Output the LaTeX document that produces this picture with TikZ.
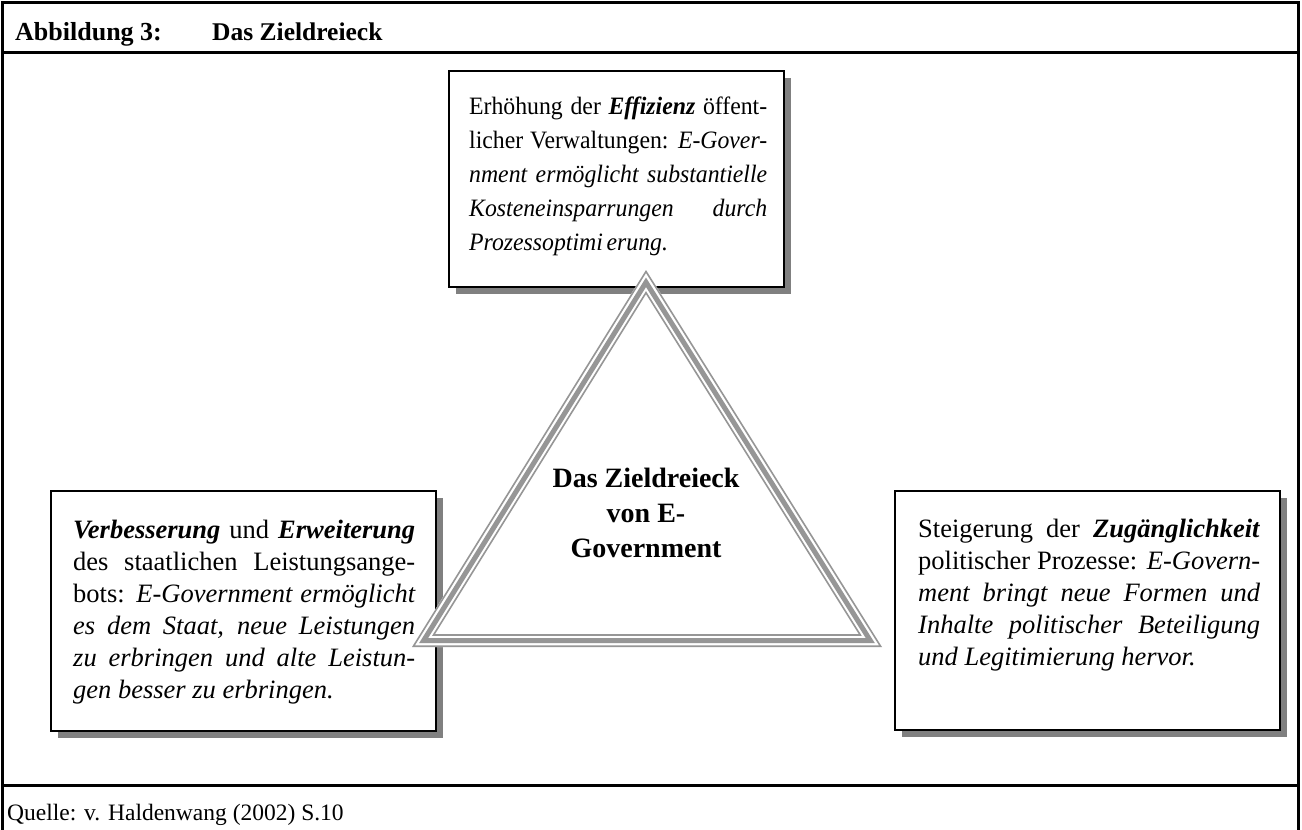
\documentclass[tikz,border=0pt]{standalone}
\usepackage{fontspec}
\setmainfont{Liberation Serif}
\newfontfamily\narrowserif{Liberation Serif}[FakeStretch=0.95]
\usetikzlibrary{calc,shadows}

\definecolor{shadowgray}{RGB}{128,128,128}
\definecolor{trigray}{RGB}{150,150,150}

% bold italic emphasis
\newcommand{\bfit}[1]{\textbf{\textit{#1}}}
% justified paragraph whose baseline is the first line's baseline
\newcommand{\justpar}[2]{\parbox[t]{#1}{\tolerance=10000\hbadness=10000\hyphenpenalty=10000\relax #2}}

\begin{document}
\begin{tikzpicture}[x=1pt,y=-1pt,
  frame/.style={line width=3pt},
  goalbox/.style={draw=black, line width=1.8pt, fill=white, inner sep=0pt,
    anchor=north west,
    drop shadow={shadow xshift=7.5pt, shadow yshift=-7.5pt, fill=shadowgray, opacity=1}},
  bodytext/.style={anchor=base west, inner sep=0pt},
  tri/.style={draw=trigray, line join=miter}]

\useasboundingbox (0,0) rectangle (1302,830);

% outer frame with header and footer rows
\draw[frame] (2.5,830) -- (2.5,2.5) -- (1298.5,2.5) -- (1298.5,830);
\draw[frame] (1,52) -- (1300,52);
\draw[frame] (1,785) -- (1300,785);

\node[anchor=base west, inner sep=0pt, font=\bfseries\fontsize{26}{30}\selectfont] (figno) at (15,40) {Abbildung 3:};
\node[anchor=base west, inner sep=0pt, font=\bfseries\fontsize{25.5}{30}\selectfont] (figtitle) at (212,40) {Das Zieldreieck};
\node[anchor=base west, inner sep=0pt, font=\fontsize{23.5}{28}\selectfont] (source) at (7,820) {Quelle: v. Haldenwang (2002) S.10};

% the three goal boxes
\node[goalbox, minimum width=335pt, minimum height=216pt] (effbox) at (448,70) {};
\node[goalbox, minimum width=385pt, minimum height=240pt] (servbox) at (50,490) {};
\node[goalbox, minimum width=385pt, minimum height=239pt] (accbox) at (894,490) {};

\node[bodytext, font=\narrowserif\fontsize{25}{34}\selectfont] (efftext) at (469,114) {\justpar{298pt}{%
Erhöhung der \bfit{Effizienz} öffent-\linebreak
licher Verwaltungen: \textit{E-Gover-\linebreak
nment ermöglicht substantielle\linebreak
Kosteneinsparrungen\hfill durch\linebreak
Prozessoptimi\hspace{0.15em}erung.}}};

\node[bodytext, font=\fontsize{26.5}{32}\selectfont] (servtext) at (73,538) {\justpar{342pt}{%
\bfit{Verbesserung} und \bfit{Erweiterung}\linebreak
des staatlichen Leistungsange-\linebreak
bots: \textit{E-Government ermöglicht\linebreak
es dem Staat, neue Leistungen\linebreak
zu erbringen und alte Leistun-\linebreak
gen besser zu erbringen.}}};

\node[bodytext, font=\fontsize{26.5}{32}\selectfont] (acctext) at (918,537) {\justpar{342pt}{%
Steigerung der \bfit{Zugänglichkeit}\linebreak
politischer Prozesse: \textit{E-Govern-\linebreak
ment bringt neue Formen und\linebreak
Inhalte politischer Beteiligung\linebreak
und Legitimierung hervor.}}};

% the goal triangle: white body, outer line, broad band, inner line
\coordinate (apex) at (646,270);
\coordinate (left) at (412,647);
\coordinate (right) at (882,647);
\coordinate (ctr) at (646,516.57);

\fill[white] (apex) -- (left) -- (right) -- cycle;
\draw[tri, line width=1.6pt] ($(ctr)!0.99387!(apex)$) -- ($(ctr)!0.99387!(left)$) -- ($(ctr)!0.99387!(right)$) -- cycle;
\draw[tri, line width=5pt] ($(ctr)!0.95015!(apex)$) -- ($(ctr)!0.95015!(left)$) -- ($(ctr)!0.95015!(right)$) -- cycle;
\draw[tri, line width=1.6pt] ($(ctr)!0.90798!(apex)$) -- ($(ctr)!0.90798!(left)$) -- ($(ctr)!0.90798!(right)$) -- cycle;

\node[anchor=base, inner sep=0pt, font=\bfseries\fontsize{28}{35}\selectfont] (goal) at (646,487)
  {\parbox[t]{230pt}{\centering Das Zieldreieck\\ von E-\\ Government}};

\end{tikzpicture}
\end{document}
